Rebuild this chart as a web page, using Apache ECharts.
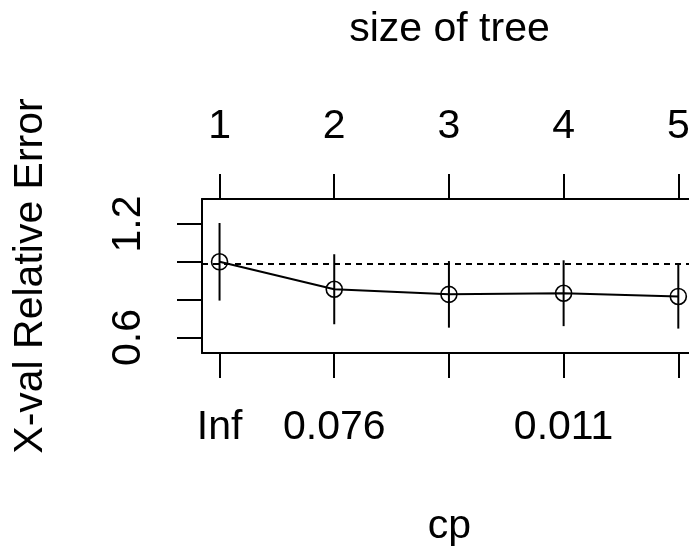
<!DOCTYPE html>
<html>
<head>
<meta charset="utf-8">
<script src="https://cdn.jsdelivr.net/npm/echarts@6/dist/echarts.min.js"></script>
<style>
  html, body { margin: 0; padding: 0; background: #fff; }
  #chart { width: 689px; height: 553px; }
</style>
</head>
<body>
<div id="chart"></div>
<script>
// Cross-validated relative error by tree size (rpart complexity table)
const treeSizes = [1, 2, 3, 4, 5];
const cpLabels = ["Inf", "0.076", "", "0.011", ""];
const xError = [1.0, 0.855, 0.828, 0.834, 0.817];
const xStd = [0.205, 0.185, 0.176, 0.174, 0.17];
const thresholdValue = 0.995;
const yTickValues = [0.6, 0.8, 1.0, 1.2];
const yLabelValues = [0.6, 1.2];

const FONT = "'Liberation Sans', Arial, sans-serif";
const FS = 41;
const INK = '#000';

const lineData = treeSizes.map((s, i) => [s, xError[i]]);
const barData = treeSizes.map((s, i) => [s, xError[i] - xStd[i], xError[i] + xStd[i]]);

const chart = echarts.init(document.getElementById('chart'), null, { renderer: 'canvas' });

// plot frame: the box runs on past the right edge of the page, so only
// the bottom, top and left sides are drawn (as axis lines)
const frameLine = { show: true, lineStyle: { color: INK, width: 2 } };

const xCommon = {
  type: 'value',
  min: 0.847,
  max: 5.163,
  splitLine: { show: false },
  axisLine: frameLine,
  axisTick: { show: true, length: 25, lineStyle: { color: INK, width: 2 }, customValues: treeSizes },
  nameLocation: 'middle',
  nameTextStyle: { fontFamily: FONT, fontSize: FS, color: INK }
};

chart.setOption({
  animation: false,
  backgroundColor: '#fff',
  grid: {
    left: 202, top: 199, width: 495, height: 154,
    show: false,
    containLabel: false,
    outerBoundsMode: 'none'
  },
  xAxis: [
    Object.assign({}, xCommon, {
      position: 'bottom',
      name: 'cp',
      nameGap: 153,
      axisLabel: {
        customValues: treeSizes,
        margin: 54,
        fontFamily: FONT, fontSize: FS, color: INK,
        formatter: v => cpLabels[treeSizes.indexOf(v)] || ''
      }
    }),
    Object.assign({}, xCommon, {
      position: 'top',
      name: 'size of tree',
      nameGap: 149,
      axisLabel: {
        customValues: treeSizes,
        margin: 52,
        fontFamily: FONT, fontSize: FS, color: INK,
        formatter: v => String(v)
      }
    })
  ],
  yAxis: {
    type: 'value',
    min: 0.518,
    max: 1.332,
    splitLine: { show: false },
    axisLine: frameLine,
    axisTick: { show: true, length: 25, lineStyle: { color: INK, width: 2 }, customValues: yTickValues },
    axisLabel: {
      customValues: yLabelValues,
      rotate: 90,
      margin: 53,
      fontFamily: FONT, fontSize: FS, color: INK,
      formatter: v => v.toFixed(1)
    },
    name: 'X-val Relative Error',
    nameLocation: 'middle',
    nameGap: 151,
    nameTextStyle: { fontFamily: FONT, fontSize: FS, color: INK }
  },
  series: [
    {
      type: 'custom',
      name: 'xstd',
      xAxisIndex: 0,
      data: barData,
      clip: false,
      renderItem: function (params, api) {
        const lo = api.coord([api.value(0), api.value(1)]);
        const hi = api.coord([api.value(0), api.value(2)]);
        return {
          type: 'line',
          shape: { x1: lo[0], y1: lo[1], x2: hi[0], y2: hi[1] },
          style: { stroke: INK, lineWidth: 2 }
        };
      },
      z: 3
    },
    {
      type: 'line',
      name: 'xerror',
      xAxisIndex: 0,
      data: lineData,
      symbol: 'circle',
      symbolSize: 16,
      showAllSymbol: true,
      lineStyle: { color: INK, width: 2 },
      itemStyle: { color: 'rgba(0,0,0,0)', borderColor: INK, borderWidth: 1.6 },
      z: 4,
      markLine: {
        silent: true,
        symbol: ['none', 'none'],
        label: { show: false },
        lineStyle: { color: INK, width: 2, type: [6, 5] },
        data: [{ yAxis: thresholdValue }]
      }
    }
  ]
});
</script>
</body>
</html>
